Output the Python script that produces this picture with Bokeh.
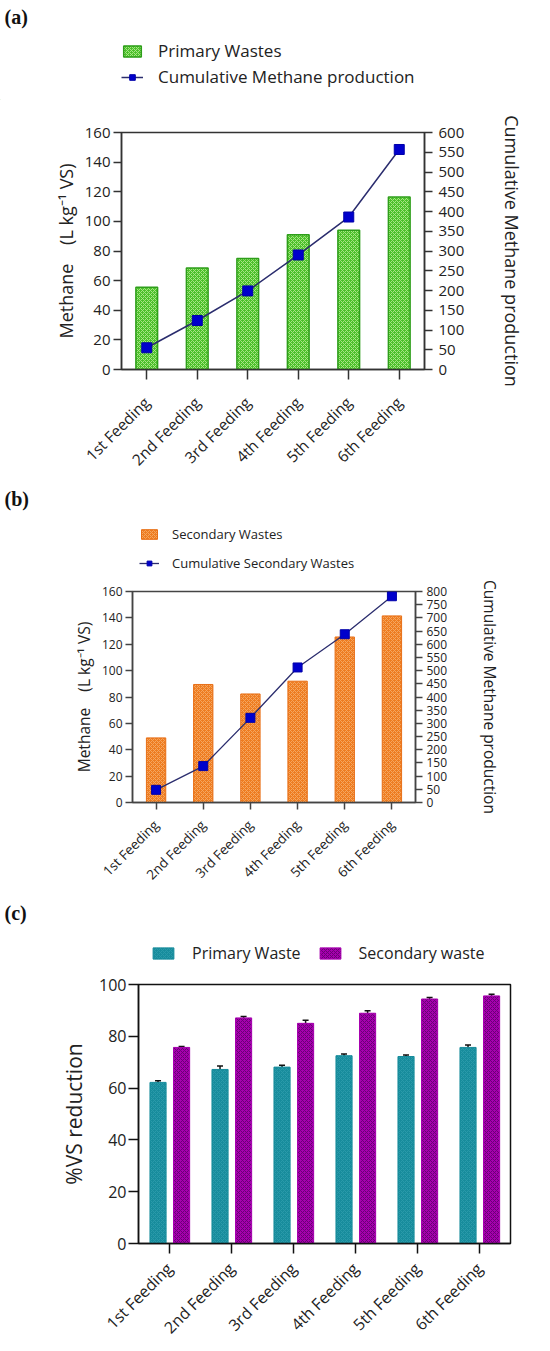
import math
from bokeh.plotting import figure
from bokeh.models import (Range1d, LinearAxis, FixedTicker, Legend, LegendItem, Label,
                          Whisker, ColumnDataSource, FactorRange, TeeHead)
from bokeh.layouts import column
from bokeh.embed import file_html
from bokeh.resources import INLINE
from bokeh.transform import dodge

# ---------------- data ----------------
feedings = ["1st Feeding", "2nd Feeding", "3rd Feeding", "4th Feeding", "5th Feeding", "6th Feeding"]

primary_methane = [55.5, 68.5, 75.0, 91.0, 94.0, 116.5]
primary_cumulative = [55, 124, 199, 290, 386, 557]

secondary_methane = [49.0, 89.5, 82.3, 92.0, 125.5, 141.5]
secondary_cumulative = [48, 138, 321, 512, 638, 782]

vs_primary = [62.2, 67.2, 68.1, 72.5, 72.2, 75.7]
vs_primary_err = [0.6, 1.3, 0.7, 0.7, 0.6, 0.9]
vs_secondary = [75.7, 87.1, 85.0, 88.9, 94.4, 95.6]
vs_secondary_err = [0.4, 0.5, 1.2, 1.0, 0.6, 0.6]

left_ticks_ab = list(range(0, 161, 20))
right_ticks_a = list(range(0, 601, 50))
right_ticks_b = list(range(0, 801, 50))
ticks_c = list(range(0, 101, 20))

FONT = "Open Sans"
W = 534
NB = "\u00a0"

GREEN = dict(fill_color="#4CC02A", line_color="#2E9E1A", line_width=1.5,
             hatch_pattern="diagonal_cross", hatch_color="#A6E685", hatch_scale=4, hatch_weight=1)
ORANGE = dict(fill_color="#EE7C20", line_color="#E87018", line_width=1,
              hatch_pattern="diagonal_cross", hatch_color="#F5A660", hatch_scale=4, hatch_weight=1)
TEAL = dict(fill_color="#178C9C", line_color="#178C9C",
            hatch_pattern="diagonal_cross", hatch_color="#2A9AAA", hatch_scale=4, hatch_weight=1)
MAGENTA = dict(fill_color="#A600AE", line_color="#A600AE",
               hatch_pattern="diagonal_cross", hatch_color="#6A0075", hatch_scale=4, hatch_weight=1)
CUM_LINE = dict(line_color="#2B2D6E")
CUM_MARK = dict(marker="square", fill_color="#0000CC", line_color="#0000AA")


def style_common(p, line_color, tick_size, xlab_size, tick_out, xlab_standoff):
    p.xgrid.grid_line_color = None
    p.ygrid.grid_line_color = None
    p.outline_line_color = line_color
    p.outline_line_width = 1.5
    p.background_fill_color = "white"
    p.border_fill_color = "white"
    for ax in p.axis:
        ax.axis_line_color = line_color
        ax.axis_line_width = 1.5
        ax.major_tick_line_color = line_color
        ax.major_tick_line_width = 1.5
        ax.minor_tick_line_color = None
        ax.major_tick_in = 0
        ax.major_tick_out = tick_out
        ax.major_label_text_font = FONT
        ax.major_label_text_color = "#222222"
        ax.major_label_text_font_size = tick_size
        ax.axis_label_text_font = FONT
        ax.axis_label_text_font_style = "normal"
        ax.axis_label_text_color = "#222222"
    p.xaxis.major_label_orientation = math.pi / 4
    p.xaxis.major_label_text_font_size = xlab_size
    p.xaxis.major_label_standoff = xlab_standoff


def legend_fig(height):
    f = figure(width=W, height=height, x_range=Range1d(0, 1), y_range=Range1d(0, 1),
               x_axis_type=None, y_axis_type=None, output_backend="svg", toolbar_location=None,
               min_border_left=0, min_border_right=0, min_border_top=0, min_border_bottom=0,
               outline_line_color=None)
    f.grid.visible = False
    return f


def panel_label(f, text, y):
    f.add_layout(Label(x=4, y=y, x_units="screen", y_units="screen", text=text,
                       text_font="Liberation Serif", text_font_size="20px",
                       text_font_style="bold", text_baseline="middle", text_color="#111111"))


OFF = [-10]  # dummy legend-only renderers sit outside the visible range

# ---------------- panel (a) ----------------
la = legend_fig(100)
la_bar = la.vbar(x=OFF, top=OFF, width=0.4, **GREEN)
la_line = la.line(x=OFF, y=OFF, line_width=1.5, **CUM_LINE)
la_mark = la.scatter(x=OFF, y=OFF, size=10, **CUM_MARK)
la.add_layout(Legend(items=[LegendItem(label="Primary Wastes", renderers=[la_bar]),
                            LegendItem(label="Cumulative Methane production", renderers=[la_line, la_mark])],
                     location=(121, 12), orientation="vertical", border_line_color=None,
                     background_fill_alpha=0, padding=0, margin=0, glyph_width=22, glyph_height=14,
                     label_standoff=15, spacing=3, label_height=20, label_text_font=FONT,
                     label_text_font_size="17px", label_text_color="#222222"))
panel_label(la, "(a)", 84)

pa = figure(width=W, height=380, x_range=FactorRange(*feedings), y_range=Range1d(0, 160),
            output_backend="svg", toolbar_location=None,
            min_border_left=121, min_border_right=110, min_border_top=32, min_border_bottom=110)
pa.extra_y_ranges = {"cum": Range1d(0, 600)}
ra = LinearAxis(y_range_name="cum", ticker=FixedTicker(ticks=right_ticks_a),
                axis_label="Cumulative Methane production")
pa.add_layout(ra, "right")
pa.yaxis[0].ticker = FixedTicker(ticks=left_ticks_ab)
pa.yaxis[0].axis_label = "Methane" + NB * 4 + "(L kg\u207b\u00b9 VS)"
style_common(pa, "#333333", "15px", "15.5px", 8, 20)
pa.xaxis.major_tick_out = 10
pa.yaxis[0].major_label_standoff = 3
pa.yaxis[0].axis_label_standoff = 4
pa.yaxis[0].axis_label_text_font_size = "18px"
ra.major_label_standoff = 6
ra.axis_label_standoff = 33
ra.axis_label_text_font_size = "18px"

pa.vbar(x=feedings, top=primary_methane, width=0.43, **GREEN)
pa.line(feedings, primary_cumulative, y_range_name="cum", line_width=1.5, **CUM_LINE)
pa.scatter(feedings, primary_cumulative, y_range_name="cum", size=10, **CUM_MARK)

# ---------------- panel (b) ----------------
lb = legend_fig(100)
lb_bar = lb.vbar(x=OFF, top=OFF, width=0.4, **ORANGE)
lb_line = lb.line(x=OFF, y=OFF, line_width=1.3, **CUM_LINE)
lb_mark = lb.scatter(x=OFF, y=OFF, size=9, **CUM_MARK)
lb.add_layout(Legend(items=[LegendItem(label="Secondary Wastes", renderers=[lb_bar]),
                            LegendItem(label="Cumulative Secondary Wastes", renderers=[lb_line, lb_mark])],
                     location=(139, 7), orientation="vertical", border_line_color=None,
                     background_fill_alpha=0, padding=0, margin=0, glyph_width=20, glyph_height=12,
                     label_standoff=13, spacing=9, label_height=20, label_text_font=FONT,
                     label_text_font_size="13px", label_text_color="#222222"))
panel_label(lb, "(b)", 82)

pb = figure(width=W, height=312, x_range=FactorRange(*feedings), y_range=Range1d(0, 160),
            output_backend="svg", toolbar_location=None,
            min_border_left=132, min_border_right=119, min_border_top=11, min_border_bottom=90)
pb.extra_y_ranges = {"cum": Range1d(0, 800)}
rb = LinearAxis(y_range_name="cum", ticker=FixedTicker(ticks=right_ticks_b),
                axis_label="Cumulative Methane production")
pb.add_layout(rb, "right")
pb.yaxis[0].ticker = FixedTicker(ticks=left_ticks_ab)
pb.yaxis[0].axis_label = "Methane" + NB * 4 + "(L kg\u207b\u00b9 VS)"
style_common(pb, "#444444", "12px", "13.5px", 7, 13)
pb.yaxis[0].major_label_standoff = 3
pb.yaxis[0].axis_label_standoff = 4
pb.yaxis[0].axis_label_text_font_size = "15.5px"
rb.major_label_standoff = 4
rb.axis_label_standoff = 29
rb.axis_label_text_font_size = "15.5px"

pb.vbar(x=feedings, top=secondary_methane, width=0.41, **ORANGE)
pb.line(feedings, secondary_cumulative, y_range_name="cum", line_width=1.3, **CUM_LINE)
pb.scatter(feedings, secondary_cumulative, y_range_name="cum", size=9, **CUM_MARK)

# ---------------- panel (c) ----------------
lc = legend_fig(78)
lc_p = lc.vbar(x=OFF, top=OFF, width=0.4, **TEAL)
lc_s = lc.vbar(x=OFF, top=OFF, width=0.4, **MAGENTA)
lc.add_layout(Legend(items=[LegendItem(label="Primary Waste", renderers=[lc_p]),
                            LegendItem(label="Secondary waste", renderers=[lc_s])],
                     location=(150, 6), orientation="horizontal", border_line_color=None,
                     background_fill_alpha=0, padding=0, margin=0, glyph_width=26, glyph_height=14,
                     label_standoff=16, spacing=16, label_height=20, label_text_font=FONT,
                     label_text_font_size="16px", label_text_color="#222222"))
panel_label(lc, "(c)", 58)

src_c = ColumnDataSource(dict(
    x=feedings, p=vs_primary, s=vs_secondary,
    p_lo=[v - e for v, e in zip(vs_primary, vs_primary_err)],
    p_hi=[v + e for v, e in zip(vs_primary, vs_primary_err)],
    s_lo=[v - e for v, e in zip(vs_secondary, vs_secondary_err)],
    s_hi=[v + e for v, e in zip(vs_secondary, vs_secondary_err)],
))
pc = figure(width=W, height=378, x_range=FactorRange(*feedings), y_range=Range1d(0, 100),
            output_backend="svg", toolbar_location=None,
            min_border_left=138, min_border_right=24, min_border_top=14, min_border_bottom=104)
pc.yaxis.ticker = FixedTicker(ticks=ticks_c)
pc.yaxis.axis_label = "%VS reduction"
style_common(pc, "#111111", "16px", "16px", 10, 12)
pc.yaxis.major_label_standoff = 2
pc.yaxis.axis_label_standoff = 8
pc.yaxis.axis_label_text_font_size = "21px"

pc.vbar(x=dodge("x", -0.185, range=pc.x_range), top="p", width=0.26, source=src_c, **TEAL)
pc.vbar(x=dodge("x", 0.195, range=pc.x_range), top="s", width=0.26, source=src_c, **MAGENTA)
for off, lo, hi in ((-0.185, "p_lo", "p_hi"), (0.195, "s_lo", "s_hi")):
    pc.add_layout(Whisker(base=dodge("x", off, range=pc.x_range), lower=lo, upper=hi,
                          source=src_c, line_color="#111111", line_width=1.5,
                          upper_head=TeeHead(size=6, line_color="#111111", line_width=1.5),
                          lower_head=TeeHead(size=6, line_color="#111111", line_width=1.5)))

layout = column([column(f) for f in (la, pa, lb, pb, lc, pc)], spacing=0)
open("out.html", "w").write(file_html(layout, INLINE))
